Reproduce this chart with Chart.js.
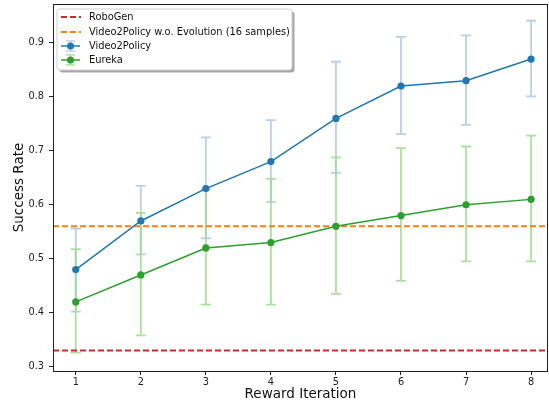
<!DOCTYPE html>
<html>
<head>
<meta charset="utf-8">
<script src="https://cdn.jsdelivr.net/npm/chart.js@4.4.1/dist/chart.umd.min.js"></script>
<style>
  html, body { margin: 0; padding: 0; background: #fff; }
  #wrap { width: 549px; height: 402px; }
</style>
</head>
<body>
<div id="wrap"><canvas id="chart"></canvas></div>
<script>
// data
var iterations = [1, 2, 3, 4, 5, 6, 7, 8];
var v2pRate  = [0.48, 0.57, 0.63, 0.68, 0.76, 0.82, 0.83, 0.87];
var v2pLow   = [0.402, 0.508, 0.538, 0.605, 0.659, 0.731, 0.748, 0.801];
var v2pHigh  = [0.556, 0.635, 0.725, 0.757, 0.865, 0.911, 0.914, 0.941];
var eurekaRate = [0.42, 0.47, 0.52, 0.53, 0.56, 0.58, 0.60, 0.61];
var eurekaLow  = [0.326, 0.358, 0.415, 0.415, 0.435, 0.459, 0.495, 0.495];
var eurekaHigh = [0.518, 0.585, 0.628, 0.648, 0.688, 0.705, 0.708, 0.728];
var roboGenRate = 0.33;
var noEvoRate = 0.56;
var xTicks = [1, 2, 3, 4, 5, 6, 7, 8];
var yTicks = [0.3, 0.4, 0.5, 0.6, 0.7, 0.8, 0.9];

var xMin = 0.65, xMax = 8.26;
var yMin = 0.292, yMax = 0.972;
var FONT = 'DejaVu Sans';

function pts(ys) {
    return iterations.map(function (x, i) { return { x: x, y: ys[i] }; });
}
function hline(v) {
    return [{ x: xMin, y: v }, { x: xMax, y: v }];
}

var errorBars = {
    id: 'errorBars',
    beforeDatasetsDraw: function (chart) {
        var ctx = chart.ctx, xs = chart.scales.x, ys = chart.scales.y;
        ctx.save();
        chart.data.datasets.forEach(function (ds) {
            if (!ds.errLow) return;
            ctx.strokeStyle = ds.errColor;
            ctx.lineWidth = 1.8;
            iterations.forEach(function (it, i) {
                var px = xs.getPixelForValue(it);
                var lo = ys.getPixelForValue(ds.errLow[i]);
                var hi = ys.getPixelForValue(ds.errHigh[i]);
                ctx.beginPath();
                ctx.moveTo(px, lo); ctx.lineTo(px, hi);
                ctx.moveTo(px - 5, lo); ctx.lineTo(px + 5, lo);
                ctx.moveTo(px - 5, hi); ctx.lineTo(px + 5, hi);
                ctx.stroke();
            });
        });
        ctx.restore();
    }
};

var frameAndLegend = {
    id: 'frameAndLegend',
    afterDraw: function (chart) {
        var ctx = chart.ctx, a = chart.chartArea;
        ctx.save();
        ctx.strokeStyle = '#222';
        ctx.lineWidth = 1;
        ctx.strokeRect(Math.round(a.left) + 0.5, Math.round(a.top) + 0.5,
            Math.round(a.right - a.left) - 1, Math.round(a.bottom - a.top));

        // legend box
        var bx = 57, by = 9, bw = 235, bh = 61;
        ctx.fillStyle = 'rgba(0,0,0,0.35)';
        roundRect(ctx, bx + 2.5, by + 2.5, bw, bh, 3);
        ctx.fill();
        ctx.fillStyle = '#fff';
        ctx.strokeStyle = '#d0d0d0';
        roundRect(ctx, bx, by, bw, bh, 3);
        ctx.fill();
        ctx.stroke();

        var rows = [17, 32, 46, 60];
        var entries = chart.data.datasets;
        ctx.font = '9.85px "' + FONT + '"';
        ctx.textBaseline = 'middle';
        entries.forEach(function (ds, i) {
            var y = rows[i];
            if (ds.errLow) {
                ctx.strokeStyle = ds.errColor;
                ctx.lineWidth = 1.5;
                ctx.beginPath();
                ctx.moveTo(70.5, y - 5); ctx.lineTo(70.5, y + 5);
                ctx.moveTo(66, y - 5); ctx.lineTo(75, y - 5);
                ctx.moveTo(66, y + 5); ctx.lineTo(75, y + 5);
                ctx.stroke();
                ctx.strokeStyle = ds.borderColor;
                ctx.lineWidth = 1.5;
                ctx.beginPath();
                ctx.moveTo(61, y); ctx.lineTo(80, y);
                ctx.stroke();
                ctx.fillStyle = ds.borderColor;
                ctx.beginPath();
                ctx.arc(70.5, y, 3.5, 0, Math.PI * 2);
                ctx.fill();
            } else {
                ctx.strokeStyle = ds.borderColor;
                ctx.lineWidth = 2;
                ctx.setLineDash([6, 3]);
                ctx.beginPath();
                ctx.moveTo(61, y); ctx.lineTo(81, y);
                ctx.stroke();
                ctx.setLineDash([]);
            }
            ctx.fillStyle = '#111';
            ctx.fillText(ds.label, 89, y + 0.5);
        });
        ctx.restore();
    }
};

function roundRect(ctx, x, y, w, h, r) {
    ctx.beginPath();
    ctx.moveTo(x + r, y);
    ctx.lineTo(x + w - r, y);
    ctx.arcTo(x + w, y, x + w, y + r, r);
    ctx.lineTo(x + w, y + h - r);
    ctx.arcTo(x + w, y + h, x + w - r, y + h, r);
    ctx.lineTo(x + r, y + h);
    ctx.arcTo(x, y + h, x, y + h - r, r);
    ctx.lineTo(x, y + r);
    ctx.arcTo(x, y, x + r, y, r);
    ctx.closePath();
}

var chart = new Chart(document.getElementById('chart').getContext('2d'), {
    type: 'line',
    data: {
        datasets: [{
            label: 'RoboGen',
            data: hline(roboGenRate),
            borderColor: '#d62728',
            borderWidth: 2,
            borderDash: [6, 3],
            pointRadius: 0,
            order: 4
        }, {
            label: 'Video2Policy w.o. Evolution (16 samples)',
            data: hline(noEvoRate),
            borderColor: '#ff7f0e',
            borderWidth: 2,
            borderDash: [6, 3],
            pointRadius: 0,
            order: 3
        }, {
            label: 'Video2Policy',
            data: pts(v2pRate),
            errLow: v2pLow,
            errHigh: v2pHigh,
            errColor: 'rgba(174,199,232,0.85)',
            borderColor: '#1f77b4',
            backgroundColor: '#1f77b4',
            borderWidth: 1.5,
            pointRadius: 3.6,
            pointBorderWidth: 0,
            order: 2
        }, {
            label: 'Eureka',
            data: pts(eurekaRate),
            errLow: eurekaLow,
            errHigh: eurekaHigh,
            errColor: 'rgba(152,223,138,0.85)',
            borderColor: '#2ca02c',
            backgroundColor: '#2ca02c',
            borderWidth: 1.5,
            pointRadius: 3.6,
            pointBorderWidth: 0,
            order: 1
        }]
    },
    options: {
        responsive: true,
        maintainAspectRatio: false,
        animation: false,
        events: [],
        layout: { autoPadding: false, padding: { left: 0, right: 1, top: 4, bottom: 0 } },
        plugins: {
            legend: { display: false },
            tooltip: { enabled: false }
        },
        scales: {
            x: {
                type: 'linear',
                min: xMin,
                max: xMax,
                afterBuildTicks: function (s) { s.ticks = xTicks.map(function (v) { return { value: v }; }); },
                afterFit: function (s) { s.height = 31; s.paddingLeft = 0; s.paddingRight = 0; },
                grid: { drawOnChartArea: false, drawTicks: true, tickLength: 4, color: '#222', tickColor: '#222' },
                border: { display: false },
                ticks: {
                    padding: 2,
                    color: '#222',
                    maxRotation: 0,
                    font: { family: FONT, size: 9.8 },
                    callback: function (v) { return String(v); }
                },
                title: {
                    display: true,
                    text: 'Reward Iteration',
                    color: '#111',
                    font: { family: FONT, size: 13.5, lineHeight: 1.1 },
                    padding: { top: 0, bottom: 0 }
                }
            },
            y: {
                type: 'linear',
                min: yMin,
                max: yMax,
                afterBuildTicks: function (s) { s.ticks = yTicks.map(function (v) { return { value: v }; }); },
                afterFit: function (s) { s.width = 53; s.paddingTop = 0; s.paddingBottom = 0; },
                grid: { drawOnChartArea: false, drawTicks: true, tickLength: 4, color: '#222', tickColor: '#222' },
                border: { display: false },
                ticks: {
                    padding: 5,
                    color: '#222',
                    font: { family: FONT, size: 9.8 },
                    callback: function (v) { return v.toFixed(1); }
                },
                title: {
                    display: true,
                    text: 'Success Rate',
                    color: '#111',
                    font: { family: FONT, size: 13.5, lineHeight: 1.1 },
                    padding: { top: 12, bottom: 0 }
                }
            }
        }
    },
    plugins: [errorBars, frameAndLegend]
});
</script>
</body>
</html>
